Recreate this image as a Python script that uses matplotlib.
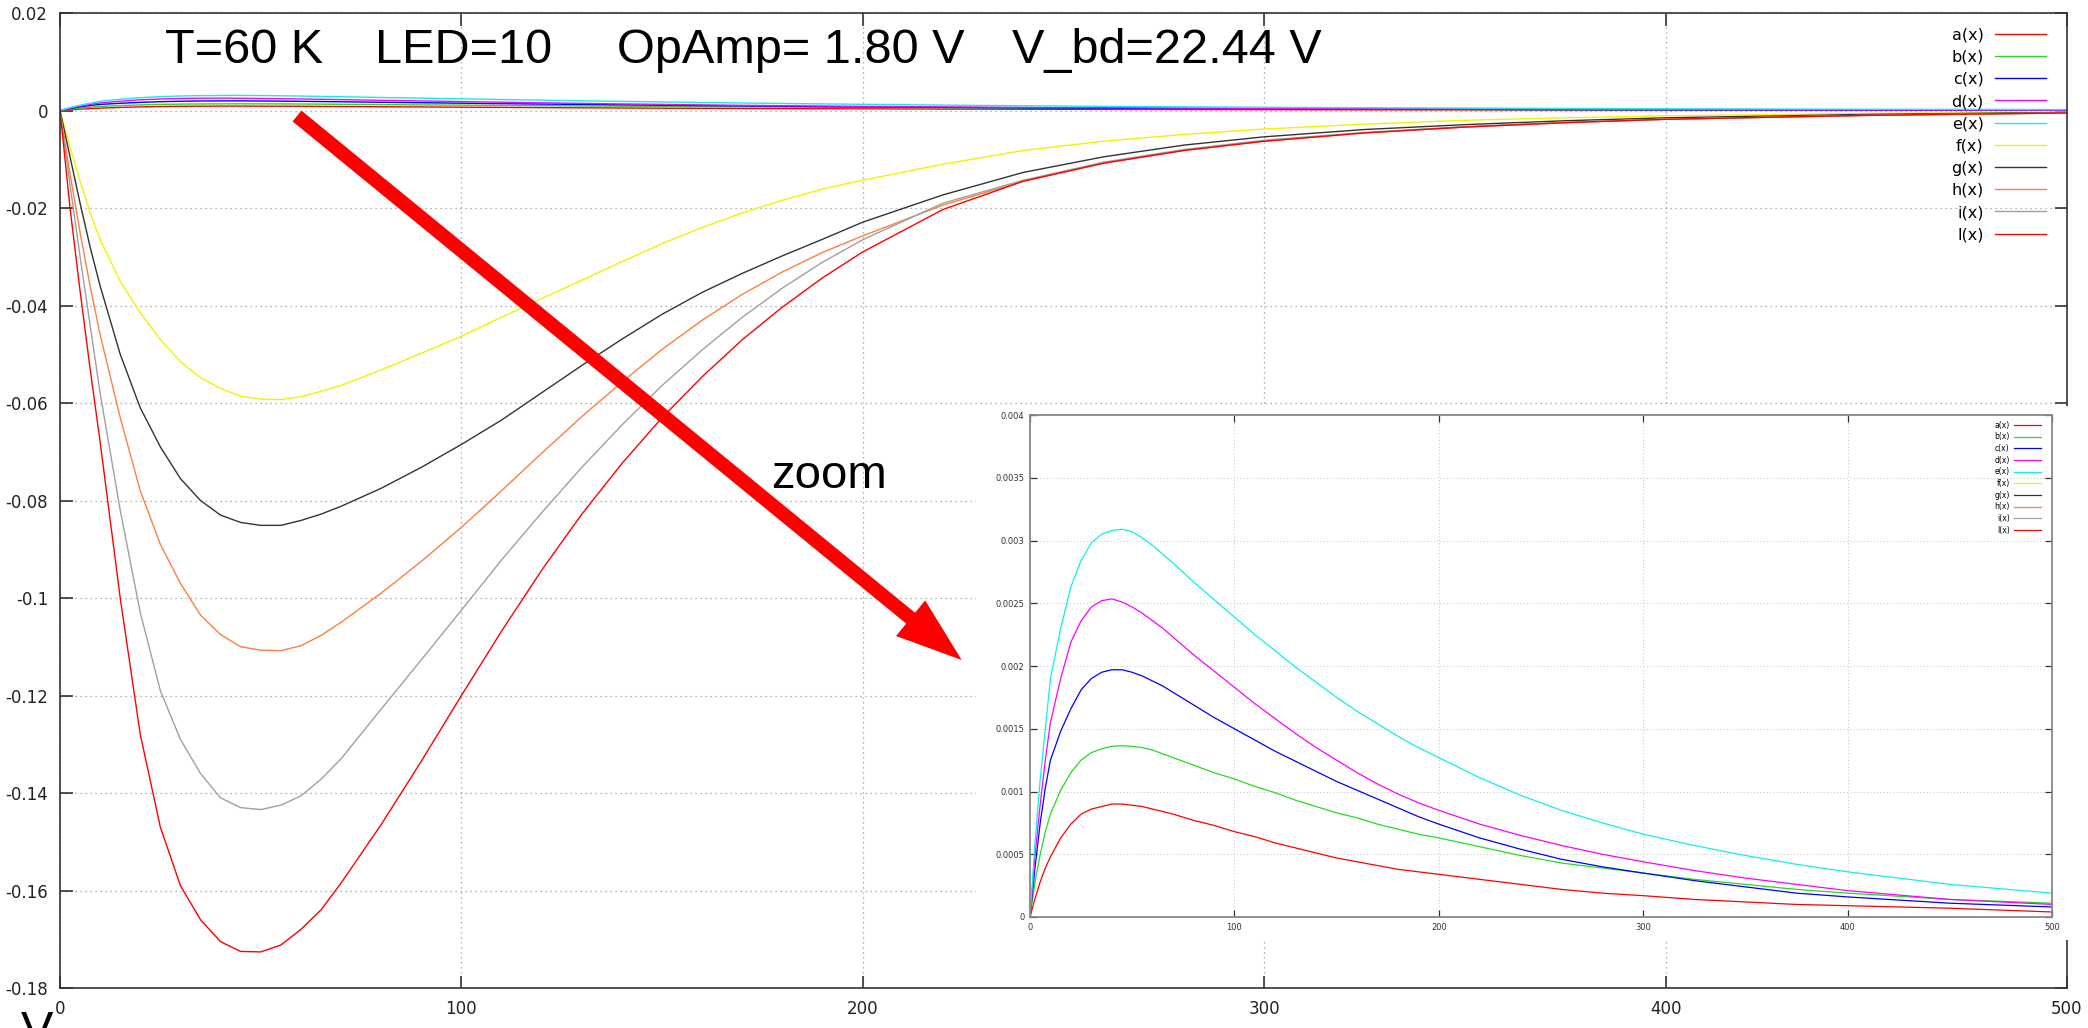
import matplotlib
matplotlib.use("Agg")
import matplotlib.pyplot as plt
from matplotlib.patches import Rectangle, FancyArrow
from matplotlib.transforms import Affine2D

# ---------------------------------------------------------------- data
x = [0, 2.5, 5, 7.5, 10, 15, 20, 25, 30, 35, 40, 45, 50, 55, 60, 65, 70,
     80, 90, 100, 110, 120, 130, 140, 150, 160, 170, 180, 190, 200,
     220, 240, 260, 280, 300, 325, 350, 375, 400, 450, 500]

a = [0, 0.00015, 0.00028, 0.00039, 0.00048, 0.00063, 0.00074, 0.00082, 0.00086,
     0.00088, 0.00090, 0.00090, 0.00089, 0.00088, 0.00086, 0.00084, 0.00082,
     0.00077, 0.00073, 0.00068, 0.00064, 0.00059, 0.00055, 0.00051, 0.00047,
     0.00044, 0.00041, 0.00038, 0.00036, 0.00034, 0.00030, 0.00026, 0.00022,
     0.00019, 0.00017, 0.00014, 0.00012, 0.00010, 0.00009, 0.00007, 0.00004]
b = [0, 0.00028, 0.00050, 0.00068, 0.00082, 0.00101, 0.00115, 0.00125, 0.00131,
     0.00134, 0.00136, 0.001365, 0.00136, 0.00135, 0.00133, 0.00130, 0.00127,
     0.00121, 0.00115, 0.00110, 0.00104, 0.00099, 0.00093, 0.00088, 0.00083,
     0.00079, 0.00074, 0.00070, 0.00066, 0.00063, 0.00056, 0.00049, 0.00043,
     0.00039, 0.00035, 0.00030, 0.00026, 0.00022, 0.00019, 0.00014, 0.00011]
c = [0, 0.00040, 0.00075, 0.00103, 0.00125, 0.00148, 0.00166, 0.00181, 0.00190,
     0.00195, 0.00197, 0.00197, 0.00195, 0.00192, 0.00188, 0.00184, 0.00179,
     0.00169, 0.00159, 0.00150, 0.00141, 0.00132, 0.00124, 0.00116, 0.00108,
     0.00101, 0.00094, 0.00087, 0.00080, 0.00074, 0.00063, 0.00054, 0.00046,
     0.00040, 0.00035, 0.00029, 0.00024, 0.00019, 0.00016, 0.00011, 0.00008]
d = [0, 0.00050, 0.00090, 0.00125, 0.00155, 0.00190, 0.00219, 0.00236, 0.00247,
     0.00252, 0.002535, 0.00251, 0.00247, 0.00242, 0.00236, 0.00230, 0.00223,
     0.00209, 0.00196, 0.00183, 0.00170, 0.00158, 0.00146, 0.00135, 0.00125,
     0.00115, 0.00106, 0.00098, 0.00091, 0.00085, 0.00074, 0.00065, 0.00057,
     0.00050, 0.00044, 0.00037, 0.00031, 0.00026, 0.00021, 0.00014, 0.00010]
e = [0, 0.00060, 0.00110, 0.00150, 0.00190, 0.00230, 0.00263, 0.00284, 0.00298,
     0.00305, 0.00308, 0.00309, 0.00307, 0.00302, 0.00296, 0.00289, 0.00282,
     0.00267, 0.00253, 0.00239, 0.00225, 0.00212, 0.00199, 0.00187, 0.00175,
     0.00164, 0.00154, 0.00144, 0.00135, 0.00127, 0.00111, 0.00097, 0.00085,
     0.00075, 0.00066, 0.00057, 0.00049, 0.00042, 0.00036, 0.00026, 0.00019]
f = [0, -0.0075, -0.0145, -0.0210, -0.0265, -0.0350, -0.0415, -0.0470, -0.0515,
     -0.0548, -0.0570, -0.0586, -0.0592, -0.0593, -0.0587, -0.0576, -0.0564,
     -0.0532, -0.0498, -0.0463, -0.0424, -0.0386, -0.0348, -0.0310, -0.0273,
     -0.0240, -0.0210, -0.0184, -0.0161, -0.0143, -0.0110, -0.0082, -0.0063,
     -0.0049, -0.0038, -0.0028, -0.0020, -0.0015, -0.0011, -0.0006, -0.0003]
g = [0, -0.0095, -0.0190, -0.0280, -0.0360, -0.0500, -0.0610, -0.0690, -0.0755,
     -0.0800, -0.0830, -0.0845, -0.0851, -0.0851, -0.0841, -0.0828, -0.0812,
     -0.0775, -0.0732, -0.0685, -0.0635, -0.0579, -0.0523, -0.0469, -0.0418,
     -0.0373, -0.0334, -0.0298, -0.0264, -0.0229, -0.0173, -0.0127, -0.0095,
     -0.0071, -0.0054, -0.0039, -0.0029, -0.0021, -0.0015, -0.0008, -0.0004]
h = [0, -0.0130, -0.0250, -0.0360, -0.0460, -0.0630, -0.0780, -0.0890, -0.0970,
     -0.1035, -0.1075, -0.1100, -0.1107, -0.1108, -0.1098, -0.1077, -0.1050,
     -0.0990, -0.0925, -0.0855, -0.0780, -0.0703, -0.0628, -0.0557, -0.0490,
     -0.0430, -0.0377, -0.0331, -0.0291, -0.0257, -0.0194, -0.0145, -0.0108,
     -0.0082, -0.0063, -0.0046, -0.0034, -0.0025, -0.0018, -0.0010, -0.0005]
i = [0, -0.0152, -0.0300, -0.0440, -0.0580, -0.0820, -0.1030, -0.1190, -0.1290,
     -0.1360, -0.1410, -0.1430, -0.1434, -0.1425, -0.1406, -0.1372, -0.1330,
     -0.1228, -0.1127, -0.1025, -0.0922, -0.0825, -0.0732, -0.0645, -0.0564,
     -0.0491, -0.0424, -0.0364, -0.0311, -0.0265, -0.0190, -0.0143, -0.0106,
     -0.0080, -0.0061, -0.0045, -0.0033, -0.0024, -0.0018, -0.0010, -0.0005]
l = [0, -0.0200, -0.0370, -0.0530, -0.0680, -0.1000, -0.1280, -0.1470, -0.1590,
     -0.1660, -0.1705, -0.1725, -0.1726, -0.1712, -0.1680, -0.1640, -0.1585,
     -0.1465, -0.1335, -0.1200, -0.1068, -0.0943, -0.0828, -0.0724, -0.0630,
     -0.0546, -0.0470, -0.0403, -0.0343, -0.0290, -0.0203, -0.0145, -0.0108,
     -0.0082, -0.0063, -0.0046, -0.0034, -0.0025, -0.0018, -0.0010, -0.0005]

series = [a, b, c, d, e, f, g, h, i, l]
labels = ['a(x)', 'b(x)', 'c(x)', 'd(x)', 'e(x)', 'f(x)', 'g(x)', 'h(x)', 'i(x)', 'l(x)']
colors = ['#ff0000', '#22dd22', '#0000ff', '#ff00ff', '#11eeee',
          '#f2f200', '#333333', '#ff7f3f', '#a0a0a0', '#ff0000']

x_ticks = [0, 100, 200, 300, 400, 500]
x_tick_labels = ['0', '100', '200', '300', '400', '500']
y_ticks = [0.02, 0, -0.02, -0.04, -0.06, -0.08, -0.1, -0.12, -0.14, -0.16, -0.18]
y_tick_labels = ['0.02', '0', '-0.02', '-0.04', '-0.06', '-0.08', '-0.1',
                 '-0.12', '-0.14', '-0.16', '-0.18']
inset_y_ticks = [0, 0.0005, 0.001, 0.0015, 0.002, 0.0025, 0.003, 0.0035, 0.004]
inset_y_tick_labels = ['0', '0.0005', '0.001', '0.0015', '0.002', '0.0025',
                       '0.003', '0.0035', '0.004']

header = ['T=60 K', 'LED=10', 'OpAmp= 1.80 V', 'V_bd=22.44 V']

# ---------------------------------------------------------------- figure
W, H, DPI = 2088, 1028, 100
fig = plt.figure(figsize=(W / DPI, H / DPI), dpi=DPI)
fig.patch.set_facecolor('white')


def box(left, top, right, bottom):
    """Axes rectangle from pixel edges (origin top-left)."""
    return [left / W, 1 - bottom / H, (right - left) / W, (bottom - top) / H]


px = Affine2D().scale(1 / W, 1 / H) + fig.transFigure

# main panel
ax = fig.add_axes(box(60, 13, 2067, 988), zorder=0)
for s, lab, col in zip(series, labels, colors):
    ax.plot(x, s, color=col, lw=1.0, label=lab)
ax.set_xlim(0, 500)
ax.set_ylim(-0.18, 0.02)
ax.set_xticks(x_ticks)
ax.set_xticklabels(x_tick_labels)
ax.set_yticks(y_ticks)
ax.set_yticklabels(y_tick_labels)
ax.tick_params(direction='in', length=9, width=1.1, top=True, right=True,
               labelsize=12, colors='#222222')
ax.tick_params(axis='y', pad=8.5)
ax.tick_params(axis='x', pad=9)
ax.grid(True, linestyle=(0, (1, 3)), color='#999999', lw=0.9)
for sp in ax.spines.values():
    sp.set_color('#333333')
    sp.set_linewidth(1.2)
ax.legend(loc='upper right', bbox_to_anchor=((2046 - 60) / 2007, 1 - 14.5 / 975),
          frameon=False, markerfirst=False, fontsize=11.5, handlelength=3.2,
          handletextpad=0.7, labelspacing=0.45, borderpad=0, borderaxespad=0)

# white backing for the magnified panel
fig.add_artist(Rectangle((976 / W, 1 - 940 / H), 1 - 976 / W, (940 - 406) / H,
                         transform=fig.transFigure, facecolor='white',
                         edgecolor='none', zorder=1))

# magnified panel
axi = fig.add_axes(box(1030, 415, 2052, 917), zorder=2)
axi.set_facecolor('white')
for s, lab, col in zip(series, labels, colors):
    axi.plot(x, s, color=col, lw=0.9, label=lab)
axi.set_xlim(0, 500)
axi.set_ylim(0, 0.004)
axi.set_xticks(x_ticks)
axi.set_xticklabels(x_tick_labels)
axi.set_yticks(inset_y_ticks)
axi.set_yticklabels(inset_y_tick_labels)
axi.tick_params(direction='in', length=5, width=0.9, top=True, right=True,
                labelsize=6, colors='#333333', pad=4)
axi.grid(True, linestyle=(0, (1, 3)), color='#aaaaaa', lw=0.6)
for sp in axi.spines.values():
    sp.set_color('#888888')
    sp.set_linewidth(1.3)
axi.legend(loc='upper right', bbox_to_anchor=((2041 - 1030) / 1022, 1 - 5.5 / 502),
           frameon=False, markerfirst=False, fontsize=5.5, handlelength=3.5,
           handletextpad=0.6, labelspacing=0.35, borderpad=0, borderaxespad=0)

# arrow pointing from the main curves to the magnified panel
tail = (297, H - 116)
tip = (961.7, H - 660)
fig.add_artist(FancyArrow(tail[0], tail[1], tip[0] - tail[0], tip[1] - tail[1],
                          width=14, head_width=46, head_length=66,
                          length_includes_head=True, color='#ff0000', lw=0,
                          transform=px, zorder=3))

# header and annotations
font = 'Liberation Sans'
for txt, xpos in zip(header, [165, 375, 617, 1012]):
    fig.text(xpos, H - 63, txt, transform=px, fontsize=35, family=font,
             ha='left', va='baseline', zorder=4)
fig.text(771, H - 488, 'zoom', transform=px, fontsize=34, family=font,
         ha='left', va='baseline', zorder=4)
fig.text(21, H - 1045, 'V', transform=px, fontsize=35, family=font,
         ha='left', va='baseline', zorder=4)

fig.savefig('out.png', dpi=DPI)
